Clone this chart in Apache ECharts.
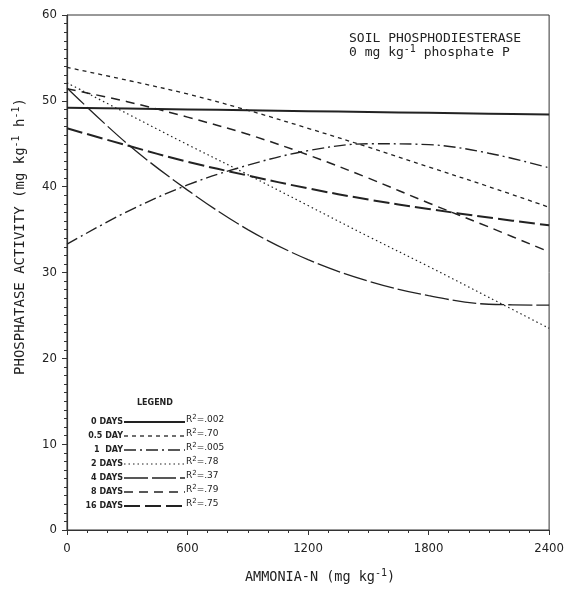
<!DOCTYPE html>
<html>
<head>
<meta charset="utf-8">
<script src="https://cdn.jsdelivr.net/npm/echarts@6/dist/echarts.min.js"></script>
<style>html,body{margin:0;padding:0;background:#fff;}#c{width:567px;height:592px;}</style>
</head>
<body>
<div id="c"></div>
<script>
// ---- data ----
const xValues = [0, 300, 600, 900, 1200, 1500, 1800, 2100, 2400];
const day0   = [49.2, 49.1, 49.0, 48.9, 48.8, 48.7, 48.6, 48.5, 48.4];
const day05  = [53.9, 52.4, 50.8, 48.9, 46.8, 44.6, 42.3, 40.0, 37.6];
const day1   = [33.3, 37.1, 40.2, 42.5, 44.2, 45.0, 44.9, 43.9, 42.2];
const day2   = [52.1, 48.5, 44.9, 41.4, 37.8, 34.2, 30.7, 27.1, 23.5];
const day4   = [51.5, 45.0, 39.6, 35.0, 31.5, 29.0, 27.3, 26.3, 26.2];
const day8   = [51.4, 49.9, 48.1, 46.1, 43.7, 41.0, 38.1, 35.3, 32.4];
const day16  = [46.8, 44.8, 42.9, 41.3, 39.8, 38.5, 37.4, 36.4, 35.5];
const legendLabels = ['0 DAYS', '0.5 DAY', '1  DAY', '2 DAYS', '4 DAYS', '8 DAYS', '16 DAYS'];
const legendR2 = ['.002', '.70', '.005', '.78', '.37', '.79', '.75'];
const xTicks = [0, 600, 1200, 1800, 2400];
const yTicks = [0, 10, 20, 30, 40, 50, 60];

// ---- styles ----
const ink = '#222';
const tickFont = '"DejaVu Sans Condensed", "Liberation Sans", sans-serif';
const seriesData = [day0, day05, day1, day2, day4, day8, day16];
const styles = [
  {width: 2.0, type: 'solid'},
  {width: 1.3, type: [4, 4]},
  {width: 1.4, type: [12, 4, 2, 4]},
  {width: 1.2, type: [1.5, 3]},
  {width: 1.3, type: [24, 4]},
  {width: 1.5, type: [9, 6]},
  {width: 2.0, type: [16, 5]}
];

const series = seriesData.map((d, i) => ({
  type: 'line',
  name: legendLabels[i],
  data: xValues.map((x, j) => [x, d[j]]),
  smooth: 0.35,
  showSymbol: false,
  lineStyle: {color: ink, width: styles[i].width, type: styles[i].type},
  silent: true
}));

// legend built as graphics
const legendGraphics = [{
  type: 'text', left: 137, top: 399,
  style: {text: 'LEGEND', font: 'bold 8px "DejaVu Sans"', fill: ink}
}];
legendLabels.forEach((lab, i) => {
  const y = 422 + i * 14;
  legendGraphics.push({
    type: 'text', x: 123, y: y,
    style: {text: lab, font: 'bold 8px "DejaVu Sans"', fill: ink, align: 'right', verticalAlign: 'middle'}
  });
  legendGraphics.push({
    type: 'line', shape: {x1: 124, y1: y, x2: 185, y2: y},
    style: {stroke: ink, lineWidth: styles[i].width,
            lineDash: styles[i].type === 'solid' ? null : styles[i].type}
  });
  legendGraphics.push({
    type: 'text', x: 186, y: y - 2,
    style: {
      text: '{a|R}{s|2}{a|=' + legendR2[i] + '}',
      verticalAlign: 'middle',
      rich: {
        a: {font: '9px "DejaVu Sans"', fill: ink},
        s: {font: '7px "DejaVu Sans"', fill: ink, padding: [0, 0, 6, 0]}
      }
    }
  });
});

const chart = echarts.init(document.getElementById('c'));
chart.setOption({
  animation: false,
  backgroundColor: '#fff',
  grid: {left: 67, right: 12, top: 15, bottom: 62, show: true, borderColor: '#333', borderWidth: 1},
  title: {
    text: 'SOIL PHOSPHODIESTERASE\n{n|0 mg kg}{s|-1}{n| phosphate P}',
    left: 344, top: 27,
    textStyle: {
      fontFamily: 'DejaVu Sans Mono', fontSize: 13, fontWeight: 'normal', color: ink, lineHeight: 14,
      rich: {
        n: {fontFamily: 'DejaVu Sans Mono', fontSize: 13, color: ink},
        s: {fontFamily: 'DejaVu Sans Mono', fontSize: 10, color: ink, padding: [0, 0, 7, 0]}
      }
    }
  },
  xAxis: {
    type: 'value', min: xTicks[0], max: xTicks[xTicks.length - 1], interval: 600,
    name: '{n|AMMONIA-N (mg kg}{s|-1}{n|)}',
    nameLocation: 'middle', nameGap: 38,
    nameTextStyle: {
      padding: [0, 0, 0, 24],
      rich: {
        n: {fontFamily: 'DejaVu Sans Mono', fontSize: 13.5, color: ink},
        s: {fontFamily: 'DejaVu Sans Mono', fontSize: 10, color: ink, padding: [0, 0, 8, 0]}
      }
    },
    axisLine: {lineStyle: {color: '#333', width: 1.2}},
    axisTick: {inside: false, length: 5, lineStyle: {color: '#333'}},
    minorTick: {show: true, splitNumber: 6, length: 3, lineStyle: {color: '#333'}},
    splitLine: {show: false},
    axisLabel: {margin: 12, fontFamily: tickFont, fontSize: 13, color: ink, formatter: v => String(v)}
  },
  yAxis: {
    type: 'value', min: yTicks[0], max: yTicks[yTicks.length - 1], interval: 10,
    name: '{n|PHOSPHATASE ACTIVITY (mg kg}{s|-1}{n| h}{s|-1}{n|)}',
    nameLocation: 'middle', nameRotate: 90, nameGap: 38,
    nameTextStyle: {
      padding: [0, 0, 0, 72],
      rich: {
        n: {fontFamily: 'DejaVu Sans Mono', fontSize: 14, color: ink},
        s: {fontFamily: 'DejaVu Sans Mono', fontSize: 10, color: ink, padding: [0, 0, 8, 0]}
      }
    },
    axisLine: {show: true, lineStyle: {color: '#333', width: 1.2}},
    axisTick: {inside: false, length: 5, lineStyle: {color: '#333'}},
    minorTick: {show: true, splitNumber: 10, length: 3, lineStyle: {color: '#333'}},
    splitLine: {show: false},
    axisLabel: {margin: 10, fontFamily: tickFont, fontSize: 13, color: ink, formatter: v => String(v)}
  },
  graphic: legendGraphics,
  series: series
});
</script>
</body>
</html>
